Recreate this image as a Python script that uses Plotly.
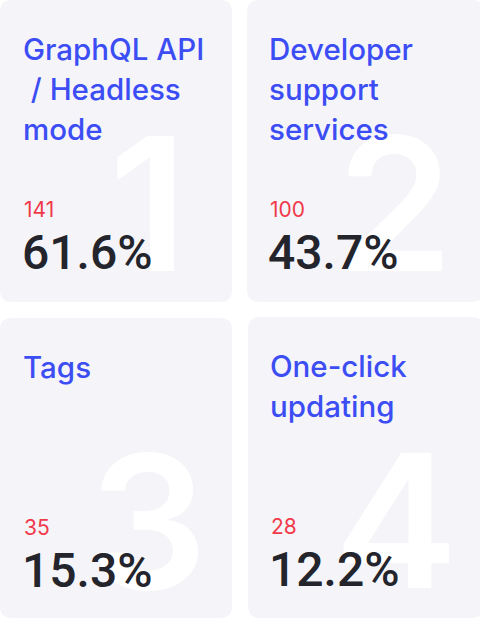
import plotly.graph_objects as go

# ---- data ----
categories = ["GraphQL API / Headless mode", "Developer support services", "Tags", "One-click updating"]
title_lines = [["GraphQL API", " / Headless", "mode"], ["Developer", "support", "services"], ["Tags"], ["One-click", "updating"]]
counts = [141, 100, 35, 28]
percents = [61.6, 43.7, 15.3, 12.2]
ranks = [1, 2, 3, 4]

# ---- layout (pixel space) ----
W, H = 480, 620
cards = [(0, 0, 232, 302), (247, 0, 484, 302), (0, 318, 232, 618), (248, 317, 484, 618)]
BG = "#F5F5F9"
BLUE = "#3C4DF4"
RED = "#F03A4B"
DARK = "#23242C"
FONT = "Inter"

def rrect(x0, y0, x1, y1, r=12):
    return (f"M{x0+r},{y0} L{x1-r},{y0} Q{x1},{y0} {x1},{y0+r} L{x1},{y1-r} Q{x1},{y1} {x1-r},{y1} "
            f"L{x0+r},{y1} Q{x0},{y1} {x0},{y1-r} L{x0},{y0+r} Q{x0},{y0} {x0+r},{y0} Z")

fig = go.Figure()
shapes = []
annotations = []
for i, (x0, y0, x1, y1) in enumerate(cards):
    shapes.append(dict(type="path", path=rrect(x0, y0, x1, y1), xref="x", yref="y",
                       fillcolor=BG, line=dict(width=0), layer="below"))
    tx = x0 + 21 if x0 > 0 else 22
    base_pct = y0 + 270
    # big rank numeral
    big = 186
    annotations.append(dict(x=x0 + 148, y=base_pct - 0.36 * big, xref="x", yref="y", text=str(ranks[i]),
                            showarrow=False, xanchor="center", yanchor="middle", borderpad=0,
                            font=dict(family=FONT, size=big, color="white", weight=600)))
    # title lines
    ts = 29.5
    for j, line in enumerate(title_lines[i]):
        bl = y0 + 60 + 40 * j
        annotations.append(dict(x=tx, y=bl - 0.36 * ts, xref="x", yref="y", text=line,
                                showarrow=False, xanchor="left", yanchor="middle", borderpad=0,
                                font=dict(family=FONT, size=ts, color=BLUE, weight=500)))
    # count
    cs = 21
    annotations.append(dict(x=tx + 1, y=base_pct - 53 - 0.36 * cs, xref="x", yref="y", text=str(counts[i]),
                            showarrow=False, xanchor="left", yanchor="middle", borderpad=0,
                            font=dict(family=FONT, size=cs, color=RED, weight=400)))
    # percent
    ps = 48
    annotations.append(dict(x=tx - 1, y=base_pct - 0.36 * ps, xref="x", yref="y", text=f"{percents[i]:.1f}%",
                            showarrow=False, xanchor="left", yanchor="middle", borderpad=0,
                            font=dict(family="Roboto", size=ps, color=DARK, weight=500)))

fig.update_layout(
    width=W, height=H, margin=dict(l=0, r=0, t=0, b=0),
    paper_bgcolor="white", plot_bgcolor="white",
    xaxis=dict(range=[0, W], visible=False, fixedrange=True),
    yaxis=dict(range=[H, 0], visible=False, fixedrange=True),
    shapes=shapes, annotations=annotations, showlegend=False,
)
fig.write_html("out.html", config={"displayModeBar": False},
               post_script="document.body.style.margin='0';document.body.style.overflow='hidden';")
